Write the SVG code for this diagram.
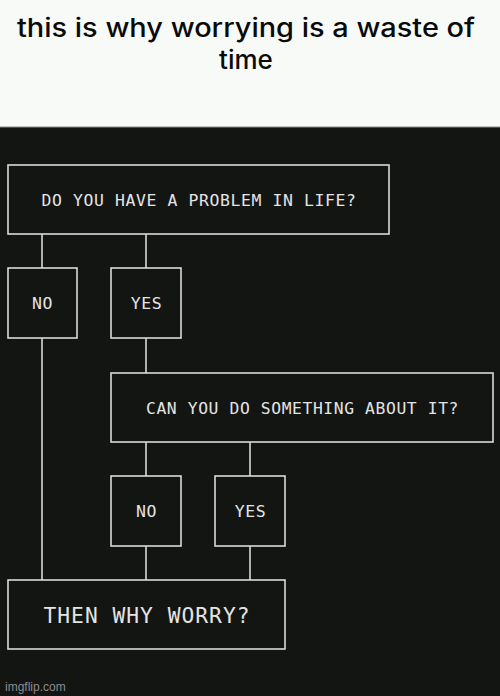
<svg xmlns="http://www.w3.org/2000/svg" width="500" height="696" viewBox="0 0 500 696">
<style>
.box{fill:#131513;stroke:#d9d9d9;stroke-width:1.6}
.con{stroke:#d9d9d9;stroke-width:1.6;fill:none}
.t{font-family:"DejaVu Sans Mono","Liberation Mono",monospace;fill:#e4e4e4;text-anchor:middle;font-size:16.5px;letter-spacing:0.6px}
.big{font-size:21.5px;letter-spacing:1px}
.title{font-family:Inter,"Liberation Sans",sans-serif;font-weight:500;font-size:26px;fill:#0a0a0a;text-anchor:middle}
</style>
<rect x="0" y="0" width="500" height="127" fill="#f7faf7"/>
<rect x="0" y="127" width="500" height="569" fill="#131513"/>
<line x1="0" y1="127" x2="500" y2="127" stroke="#8a8c8a" stroke-width="1"/>
<text class="title" x="246" y="36.5" textLength="458" lengthAdjust="spacingAndGlyphs">this is why worrying is a waste of</text>
<text class="title" x="246" y="68.5">time</text>
<g id="connectors">
<line class="con" x1="42" y1="234" x2="42" y2="268"/>
<line class="con" x1="146" y1="234" x2="146" y2="268"/>
<line class="con" x1="146" y1="338" x2="146" y2="373"/>
<line class="con" x1="42" y1="338" x2="42" y2="580"/>
<line class="con" x1="146" y1="442" x2="146" y2="476"/>
<line class="con" x1="250" y1="442" x2="250" y2="476"/>
<line class="con" x1="146" y1="546" x2="146" y2="580"/>
<line class="con" x1="250" y1="546" x2="250" y2="580"/>
</g>
<g id="q1"><rect class="box" x="8" y="165" width="381" height="69"/><text class="t" x="199" y="205.5" textLength="315" lengthAdjust="spacingAndGlyphs">DO YOU HAVE A PROBLEM IN LIFE?</text></g>
<g id="no1"><rect class="box" x="8" y="268" width="69" height="70"/><text class="t" x="42.5" y="309">NO</text></g>
<g id="yes1"><rect class="box" x="111" y="268" width="70" height="70"/><text class="t" x="146.5" y="309">YES</text></g>
<g id="q2"><rect class="box" x="111" y="373" width="382" height="69"/><text class="t" x="302.5" y="413.5" textLength="313" lengthAdjust="spacingAndGlyphs">CAN YOU DO SOMETHING ABOUT IT?</text></g>
<g id="no2"><rect class="box" x="111" y="476" width="70" height="70"/><text class="t" x="146.5" y="516.5">NO</text></g>
<g id="yes2"><rect class="box" x="215" y="476" width="70" height="70"/><text class="t" x="250.5" y="516.5">YES</text></g>
<g id="end"><rect class="box" x="8" y="580" width="277" height="69"/><text class="t big" x="147" y="622.5" textLength="207" lengthAdjust="spacingAndGlyphs">THEN WHY WORRY?</text></g>
<text x="5" y="691" font-family="Liberation Sans, Arial, sans-serif" font-size="12" fill="#8c8c8c">imgflip.com</text>
</svg>
